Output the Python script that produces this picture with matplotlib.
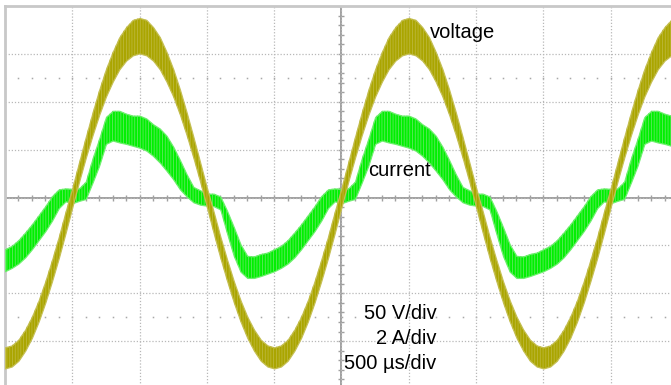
import matplotlib
matplotlib.use("Agg")
import matplotlib.pyplot as plt
import numpy as np

plt.rcParams['font.family'] = ['Liberation Sans', 'DejaVu Sans']
plt.rcParams['hatch.linewidth'] = 0.6

# time axis in divisions (500 us/div), one sample every 0.1 div
time_div = [round(-5.0 + 0.1 * i, 1) for i in range(100)]

# voltage trace (divisions, 50 V/div): upper and lower envelope of the noisy band
volt_upper = [
    -3.13, -3.09, -2.97, -2.76, -2.49, -2.15, -1.75, -1.30, -0.82, -0.30,
    0.20, 0.73, 1.26, 1.77, 2.25, 2.68, 3.04, 3.35, 3.56, 3.71,
    3.75, 3.71, 3.56, 3.35, 3.04, 2.68, 2.25, 1.77, 1.26, 0.73,
    0.20, -0.30, -0.82, -1.30, -1.75, -2.15, -2.49, -2.76, -2.97, -3.09,
    -3.13, -3.09, -2.97, -2.76, -2.49, -2.15, -1.75, -1.30, -0.82, -0.30,
    0.20, 0.73, 1.26, 1.77, 2.25, 2.68, 3.04, 3.35, 3.56, 3.71,
    3.75, 3.71, 3.56, 3.35, 3.04, 2.68, 2.25, 1.77, 1.26, 0.73,
    0.20, -0.30, -0.82, -1.30, -1.75, -2.15, -2.49, -2.76, -2.97, -3.09,
    -3.13, -3.09, -2.97, -2.76, -2.49, -2.15, -1.75, -1.30, -0.82, -0.30,
    0.20, 0.73, 1.26, 1.77, 2.25, 2.68, 3.04, 3.35, 3.56, 3.71,
]
volt_lower = [
    -3.57, -3.53, -3.41, -3.20, -2.93, -2.59, -2.19, -1.74, -1.26, -0.74,
    -0.20, 0.33, 0.83, 1.30, 1.73, 2.11, 2.42, 2.68, 2.86, 2.97,
    3.01, 2.97, 2.86, 2.68, 2.42, 2.11, 1.73, 1.30, 0.83, 0.33,
    -0.20, -0.74, -1.26, -1.74, -2.19, -2.59, -2.93, -3.20, -3.41, -3.53,
    -3.57, -3.53, -3.41, -3.20, -2.93, -2.59, -2.19, -1.74, -1.26, -0.74,
    -0.20, 0.33, 0.83, 1.30, 1.73, 2.11, 2.42, 2.68, 2.86, 2.97,
    3.01, 2.97, 2.86, 2.68, 2.42, 2.11, 1.73, 1.30, 0.83, 0.33,
    -0.20, -0.74, -1.26, -1.74, -2.19, -2.59, -2.93, -3.20, -3.41, -3.53,
    -3.57, -3.53, -3.41, -3.20, -2.93, -2.59, -2.19, -1.74, -1.26, -0.74,
    -0.20, 0.33, 0.83, 1.30, 1.73, 2.11, 2.42, 2.68, 2.86, 2.97,
]

# current trace (divisions, 2 A/div): upper and lower envelope of the noisy band
curr_upper = [
    -1.08, -1.01, -0.89, -0.73, -0.56, -0.37, -0.18, 0.03, 0.17, 0.19,
    0.18, 0.19, 0.33, 0.81, 1.23, 1.68, 1.81, 1.81, 1.75, 1.71,
    1.71, 1.65, 1.53, 1.44, 1.29, 1.06, 0.78, 0.48, 0.22, 0.15,
    0.08, 0.08, 0.02, -0.28, -0.62, -0.98, -1.22, -1.23, -1.18, -1.15,
    -1.08, -1.01, -0.89, -0.73, -0.56, -0.37, -0.18, 0.03, 0.17, 0.19,
    0.18, 0.19, 0.33, 0.81, 1.23, 1.68, 1.81, 1.81, 1.75, 1.71,
    1.71, 1.65, 1.53, 1.44, 1.29, 1.06, 0.78, 0.48, 0.22, 0.15,
    0.08, 0.08, 0.02, -0.28, -0.62, -0.98, -1.22, -1.23, -1.18, -1.15,
    -1.08, -1.01, -0.89, -0.73, -0.56, -0.37, -0.18, 0.03, 0.17, 0.19,
    0.18, 0.19, 0.33, 0.81, 1.23, 1.68, 1.81, 1.81, 1.75, 1.71,
]
curr_lower = [
    -1.54, -1.47, -1.38, -1.25, -1.08, -0.89, -0.70, -0.48, -0.22, -0.08,
    -0.12, -0.07, -0.03, 0.31, 0.67, 1.12, 1.19, 1.15, 1.12, 1.08,
    1.04, 0.98, 0.87, 0.73, 0.56, 0.38, 0.17, 0.02, -0.10, -0.15,
    -0.17, -0.18, -0.25, -0.75, -1.22, -1.55, -1.68, -1.68, -1.64, -1.59,
    -1.54, -1.47, -1.38, -1.25, -1.08, -0.89, -0.70, -0.48, -0.22, -0.08,
    -0.12, -0.07, -0.03, 0.31, 0.67, 1.12, 1.19, 1.15, 1.12, 1.08,
    1.04, 0.98, 0.87, 0.73, 0.56, 0.38, 0.17, 0.02, -0.10, -0.15,
    -0.17, -0.18, -0.25, -0.75, -1.22, -1.55, -1.68, -1.68, -1.64, -1.59,
    -1.54, -1.47, -1.38, -1.25, -1.08, -0.89, -0.70, -0.48, -0.22, -0.08,
    -0.12, -0.07, -0.03, 0.31, 0.67, 1.12, 1.19, 1.15, 1.12, 1.08,
]

trace_labels = ["voltage", "current"]
scale_labels = ["50 V/div", "2 A/div", "500 µs/div"]

W, H = 671, 385
fig = plt.figure(figsize=(W / 100, H / 100), dpi=100)
fig.patch.set_facecolor("white")
# plot area: 10 x 8 divisions, slightly cropped at right and bottom
ax = fig.add_axes([5 / W, -4 / H, 673 / W, 383 / H])
ax.set_xlim(-5, 5)
ax.set_ylim(-4, 4)
ax.set_facecolor("white")

for s in ["right", "bottom"]:
    ax.spines[s].set_visible(False)
for s in ["top", "left"]:
    ax.spines[s].set_color("#c8c8c8")
    ax.spines[s].set_linewidth(2.0)

ax.set_xticks(np.arange(-4, 5, 1))
ax.set_yticks(np.arange(-3, 4, 1))
ax.tick_params(length=0, labelbottom=False, labelleft=False)
ax.grid(True, color="#b8b8b8", linestyle=(0, (1, 1.5)), linewidth=0.9)

# center cross-hair with minor ticks
ax.axhline(0, color="#a0a0a0", linewidth=1.4, zorder=1)
ax.axvline(0, color="#a0a0a0", linewidth=1.4, zorder=1)
xt = np.arange(-5, 5.01, 0.2)
yt = np.arange(-4, 4.01, 0.2)
ax.plot(xt, np.zeros_like(xt), linestyle="none", marker="|", markersize=5,
        markeredgewidth=1.0, color="#a0a0a0", zorder=1)
ax.plot(np.zeros_like(yt), yt, linestyle="none", marker="_", markersize=5,
        markeredgewidth=1.0, color="#a0a0a0", zorder=1)
# sparse dotted rows at +/- 2.5 div
for yy in (2.5, -2.5):
    ax.plot(xt, np.full_like(xt, yy), linestyle="none", marker="s", markersize=1.1,
            markeredgewidth=0, color="#a8a8a8", zorder=1)

t = np.array(time_div)
# current (green) with a faint vertical ripple texture
ax.fill_between(t, curr_lower, curr_upper, facecolor="#00f000", edgecolor="#70f070",
                linewidth=0.9, zorder=3)
ax.fill_between(t, curr_lower, curr_upper, facecolor="none", edgecolor="#60e860",
                hatch="||||||", linewidth=0, zorder=3.1)
# voltage (olive)
ax.fill_between(t, volt_lower, volt_upper, facecolor="#aaa500", edgecolor="#c6c056",
                linewidth=0.9, zorder=4)
ax.fill_between(t, volt_lower, volt_upper, facecolor="none", edgecolor="#bdb83a",
                hatch="||||||", linewidth=0, zorder=4.1)

fs = 14.5
ax.text(1.32, 3.33, trace_labels[0], fontsize=fs, va="baseline", ha="left", zorder=6)
ax.text(0.40, 0.44, trace_labels[1], fontsize=fs, va="baseline", ha="left", zorder=6)
ax.text(1.41, -2.54, scale_labels[0], fontsize=fs, va="baseline", ha="right", zorder=6)
ax.text(1.41, -3.06, scale_labels[1], fontsize=fs, va="baseline", ha="right", zorder=6)
ax.text(1.41, -3.58, scale_labels[2], fontsize=fs, va="baseline", ha="right", zorder=6)

fig.savefig("out.png", dpi=100)
